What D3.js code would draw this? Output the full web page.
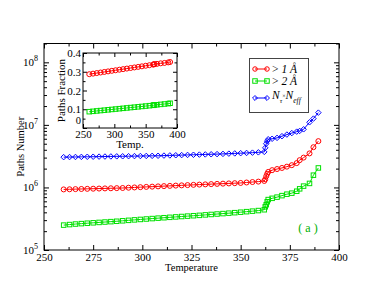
<!DOCTYPE html>
<html><head><meta charset="utf-8">
<script src="https://cdn.jsdelivr.net/npm/d3@7"></script>
<style>
body{margin:0;background:#fff;}
svg text{font-family:"Liberation Serif","DejaVu Serif",serif;fill:#000;}
</style></head>
<body><svg id="c" width="382" height="295"></svg>
<script>
// ---- data ----
const temps = [260,263,266,269,272,275,278,281,284,287,290,293,296,299,302,305,308,311,314,317,320,323,326,329,332,335,338,341,344,347,350,353,356,359,362,
  362.5,363,363.5,364,366,368.5,371,373.5,376,378.5,380,382,385,387,389.5];
const above1A = [0.93,0.935,0.94,0.945,0.95,0.955,0.96,0.965,0.97,0.975,0.98,0.99,1.00,1.01,1.02,1.03,1.04,1.05,1.06,1.07,1.08,1.09,1.10,1.11,1.12,1.13,1.14,1.15,1.16,1.17,1.18,1.20,1.22,1.24,1.27,
  1.35,1.51,1.65,1.77,1.89,1.97,2.05,2.15,2.27,2.45,2.73,3.0,3.5,4.4,5.5].map(v=>v*1e6);
const above2A = [2.50,2.55,2.60,2.64,2.68,2.72,2.76,2.80,2.84,2.88,2.93,2.98,3.03,3.08,3.13,3.18,3.23,3.28,3.33,3.38,3.43,3.48,3.53,3.58,3.64,3.70,3.76,3.82,3.88,3.95,4.02,4.10,4.18,4.27,4.40,
  4.9,5.3,5.9,6.4,6.7,7.0,7.4,7.8,8.1,8.7,9.5,10.5,11.6,15.7,20.5].map(v=>v*1e5);
const nTauNeff = [3.05,3.06,3.07,3.08,3.09,3.10,3.11,3.12,3.13,3.14,3.15,3.16,3.17,3.18,3.19,3.20,3.21,3.23,3.25,3.27,3.29,3.31,3.33,3.35,3.37,3.39,3.41,3.44,3.47,3.50,3.53,3.56,3.60,3.64,3.70,
  4.3,5.0,5.5,5.9,6.0,6.2,6.6,7.0,7.4,7.8,8.0,8.5,11.0,12.6,15.7].map(v=>v*1e6);

const insetTemps = [260,266,272,278,284,290,296,302,308,314,320,326,332,338,344,350,356,362,363,364,368,374,380,386,389];
const frac1A = [0.287,0.290,0.293,0.296,0.299,0.302,0.305,0.308,0.311,0.314,0.317,0.320,0.323,0.326,0.329,0.332,0.335,0.338,0.340,0.341,0.342,0.345,0.347,0.350,0.352];
const frac2A = [0.087,0.089,0.091,0.093,0.095,0.097,0.099,0.101,0.103,0.105,0.107,0.109,0.111,0.113,0.115,0.117,0.119,0.121,0.122,0.123,0.124,0.126,0.128,0.130,0.132];

const xMajor = [250,275,300,325,350,375,400];
const xMinor = [262.5,287.5,312.5,337.5,362.5,387.5];
const yMajor = [1e5,1e6,1e7,1e8];
const insetXMajor = [250,300,350,400];
const insetXMinor = [275,325,375];
const insetYMajor = [0,0.1,0.2,0.3,0.4];
const insetYMinor = [0.05,0.15,0.25,0.35];

const RED="#ff0000", GREEN="#00e000", BLUE="#0000ff";

// ---- main chart ----
const svg = d3.select("#c");
const L=44,R=339,T=43.5,B=250;
const x = d3.scaleLinear([250,400],[L,R]);
const y = d3.scaleLog([1e5,2e8],[B,T]);

svg.append("rect").attr("x",L).attr("y",T).attr("width",R-L).attr("height",B-T)
  .attr("fill","none").attr("stroke","#000").attr("stroke-width",1);

function styleAxis(g){ g.select(".domain").remove(); g.selectAll("line").attr("stroke","#000"); g.selectAll("text").attr("font-family","Liberation Serif").attr("fill","#000"); }

const fmtNone = ()=> "";
svg.append("g").attr("transform",`translate(0,${B})`)
  .call(d3.axisBottom(x).tickValues(xMajor).tickSize(-5).tickPadding(3).tickFormat(d3.format("d")))
  .call(styleAxis).selectAll("text").attr("font-size",11);
svg.append("g").attr("transform",`translate(0,${B})`)
  .call(d3.axisBottom(x).tickValues(xMinor).tickSize(-3).tickFormat(fmtNone)).call(styleAxis);
svg.append("g").attr("transform",`translate(0,${T})`)
  .call(d3.axisTop(x).tickValues(xMajor).tickSize(-5).tickFormat(fmtNone)).call(styleAxis);
svg.append("g").attr("transform",`translate(0,${T})`)
  .call(d3.axisTop(x).tickValues(xMinor).tickSize(-3).tickFormat(fmtNone)).call(styleAxis);

const yMinor = [];
yMajor.forEach(d=>{ for(let k=2;k<=9;k++){ const v=d*k; if(v<=2e8) yMinor.push(v);} });

const yl = svg.append("g").attr("transform",`translate(${L},0)`)
  .call(d3.axisLeft(y).tickValues(yMajor).tickSize(-5).tickPadding(6).tickFormat(fmtNone)).call(styleAxis);
yl.selectAll(".tick text").each(function(d){
  const t=d3.select(this).attr("font-size",11);
  t.append("tspan").text("10");
  t.append("tspan").attr("dy",-5).attr("font-size",8).text(Math.round(Math.log10(d)));
});
svg.append("g").attr("transform",`translate(${L},0)`)
  .call(d3.axisLeft(y).tickValues(yMinor).tickSize(-3).tickFormat(fmtNone)).call(styleAxis);
svg.append("g").attr("transform",`translate(${R},0)`)
  .call(d3.axisRight(y).tickValues(yMajor).tickSize(-5).tickFormat(fmtNone)).call(styleAxis);
svg.append("g").attr("transform",`translate(${R},0)`)
  .call(d3.axisRight(y).tickValues(yMinor).tickSize(-3).tickFormat(fmtNone)).call(styleAxis);

svg.append("text").attr("x",(L+R)/2).attr("y",271).attr("text-anchor","middle").attr("font-size",10.5).text("Temperature");
svg.append("text").attr("transform",`translate(24,${(T+B)/2}) rotate(-90)`).attr("text-anchor","middle").attr("font-size",10.5).text("Paths Number");

// markers
function marker(g, type, color, cx, cy, s){
  if(type==="circle") g.append("circle").attr("cx",cx).attr("cy",cy).attr("r",s/2).attr("fill","none").attr("stroke",color).attr("stroke-width",1);
  else if(type==="square") g.append("rect").attr("x",cx-s/2).attr("y",cy-s/2).attr("width",s).attr("height",s).attr("fill","none").attr("stroke",color).attr("stroke-width",1);
  else g.append("path").attr("d",`M${cx},${cy-s*0.55}L${cx+s*0.55},${cy}L${cx},${cy+s*0.55}L${cx-s*0.55},${cy}Z`).attr("fill","none").attr("stroke",color).attr("stroke-width",1);
}
function series(g, xs, ys, xsc, ysc, color, type, s){
  const pts = xs.map((t,i)=>[xsc(t), ysc(ys[i])]);
  g.append("path").attr("d",d3.line()(pts)).attr("fill","none").attr("stroke",color).attr("stroke-width",1);
  const mg = g.append("g");
  pts.forEach(p=>marker(mg,type,color,p[0],p[1],s));
}
const plot = svg.append("g");
series(plot, temps, nTauNeff, x, y, BLUE, "diamond", 5);
series(plot, temps, above1A, x, y, RED, "circle", 5);
series(plot, temps, above2A, x, y, GREEN, "square", 4.5);

// legend
const lg = svg.append("g");
lg.append("rect").attr("x",249.5).attr("y",58.5).attr("width",59).attr("height",54).attr("fill","#fff").attr("stroke","#444").attr("stroke-width",1);
const legItems = [{c:RED,t:"circle",y:69},{c:GREEN,t:"square",y:81},{c:BLUE,t:"diamond",y:98}];
legItems.forEach(it=>{
  lg.append("line").attr("x1",255).attr("x2",267).attr("y1",it.y).attr("y2",it.y).attr("stroke",it.c);
  marker(lg,it.t,it.c,255,it.y,4.5);
  marker(lg,it.t,it.c,267,it.y,4.5);
});
function angText(yb, n){
  const t = lg.append("text").attr("x",272).attr("y",yb).attr("font-size",11.5);
  t.append("tspan").text("> ");
  t.append("tspan").attr("font-style","italic").text(n+" Å");
}
angText(73,"1");
angText(85,"2");
const nt = lg.append("text").attr("x",272).attr("y",99).attr("font-size",11.5).attr("font-style","italic");
nt.append("tspan").text("N");
nt.append("tspan").attr("dy",4).attr("font-size",7).text("τ");
nt.append("tspan").attr("dy",-5).attr("font-size",6).attr("font-style","normal").text("×");
nt.append("tspan").attr("dy",1).text("N");
nt.append("tspan").attr("dy",4).attr("font-size",7.5).text("eff");

svg.append("text").attr("x",308).attr("y",232).attr("text-anchor","middle").attr("font-size",12).style("fill","#00b000").text("( a )");

// ---- inset ----
const iL=83,iR=177,iT=53,iB=128;
const xi = d3.scaleLinear([250,400],[iL,iR]);
const yi = d3.scaleLinear([0,0.4],[iB,iT]);
svg.append("rect").attr("x",iL).attr("y",iT).attr("width",iR-iL).attr("height",iB-iT)
  .attr("fill","#fff").attr("stroke","#000").attr("stroke-width",1);
svg.append("g").attr("transform",`translate(0,${iB})`)
  .call(d3.axisBottom(xi).tickValues(insetXMajor).tickSize(-4).tickPadding(2).tickFormat(d3.format("d")))
  .call(styleAxis).selectAll("text").attr("font-size",11);
svg.append("g").attr("transform",`translate(0,${iB})`)
  .call(d3.axisBottom(xi).tickValues(insetXMinor).tickSize(-2.5).tickFormat(fmtNone)).call(styleAxis);
svg.append("g").attr("transform",`translate(0,${iT})`)
  .call(d3.axisTop(xi).tickValues(insetXMajor).tickSize(-4).tickFormat(fmtNone)).call(styleAxis);
svg.append("g").attr("transform",`translate(0,${iT})`)
  .call(d3.axisTop(xi).tickValues(insetXMinor).tickSize(-2.5).tickFormat(fmtNone)).call(styleAxis);
const iyl = svg.append("g").attr("transform",`translate(${iL},0)`)
  .call(d3.axisLeft(yi).tickValues(insetYMajor).tickSize(-4).tickPadding(2).tickFormat(d=>d===0?"0":d3.format(".1f")(d)))
  .call(styleAxis);
iyl.selectAll("text").attr("font-size",11);
iyl.selectAll(".tick").filter(d=>d===0).select("text").attr("dy","-0.45em").attr("font-size",10.5);
svg.append("g").attr("transform",`translate(${iL},0)`)
  .call(d3.axisLeft(yi).tickValues(insetYMinor).tickSize(-2.5).tickFormat(fmtNone)).call(styleAxis);
svg.append("g").attr("transform",`translate(${iR},0)`)
  .call(d3.axisRight(yi).tickValues(insetYMajor).tickSize(-4).tickFormat(fmtNone)).call(styleAxis);
svg.append("g").attr("transform",`translate(${iR},0)`)
  .call(d3.axisRight(yi).tickValues(insetYMinor).tickSize(-2.5).tickFormat(fmtNone)).call(styleAxis);

const ip = svg.append("g");
series(ip, insetTemps, frac1A, xi, yi, RED, "circle", 5);
series(ip, insetTemps, frac2A, xi, yi, GREEN, "square", 4.5);

svg.append("text").attr("x",(iL+iR)/2).attr("y",148).attr("text-anchor","middle").attr("font-size",11).text("Temp.");
svg.append("text").attr("transform",`translate(65,${(iT+iB)/2}) rotate(-90)`).attr("text-anchor","middle").attr("font-size",11).text("Paths Fraction");
</script></body></html>
